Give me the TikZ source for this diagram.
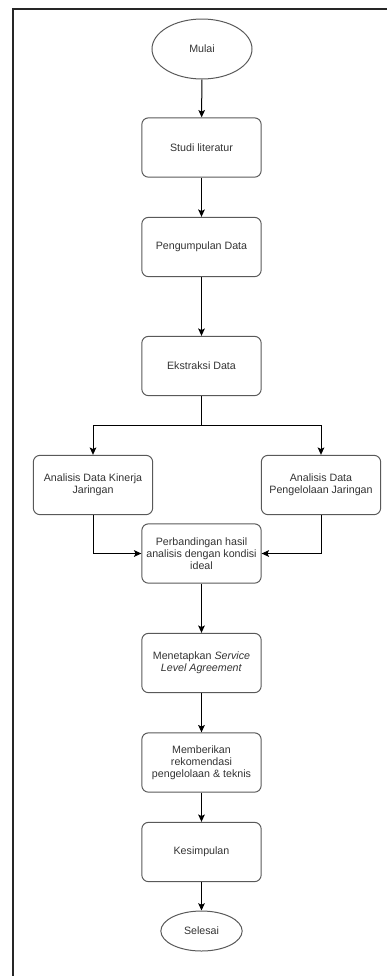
\documentclass[tikz,border=0pt]{standalone}
\usepackage{fontspec}
\setmainfont{Liberation Sans}
\usetikzlibrary{arrows.meta,shapes.geometric}

\begin{document}
\begin{tikzpicture}[
  x=0.75pt,y=-0.75pt,
  font=\fontsize{8}{9.2}\selectfont,
  box/.style={draw=black!65,line width=0.75pt,rounded corners=5pt,align=center,
    text=black!80,minimum width=89.5pt,minimum height=44.5pt,inner sep=1pt},
  term/.style={ellipse,draw=black!65,line width=0.75pt,text=black!80,inner sep=0pt},
  flow/.style={-{Stealth[length=5.5pt,width=5pt,inset=1.2pt]},line width=0.75pt},
  line/.style={line width=0.75pt}]
\path[use as bounding box] (0,0) rectangle (387,976);
\draw[line width=1.1pt,black!85] (387,9) -- (13,9) -- (13,976);
\node[term,minimum width=75pt,minimum height=45pt] (mulai) at (202,49) {Mulai};
\node[box] (studi) at (201.5,147.5) {Studi literatur};
\node[box] (kumpul) at (201.5,247) {Pengumpulan Data};
\node[box] (ekstrak) at (201.5,366) {Ekstraksi Data};
\coordinate (split) at (201.5,425);
\node[box] (kinerja) at (93,485) {Analisis Data Kinerja\\Jaringan};
\node[box] (kelola) at (321,485) {Analisis Data\\Pengelolaan Jaringan};
\node[box] (banding) at (201.5,553.5)
  {Perbandingan hasil\\analisis dengan kondisi\\ideal};
\node[box] (sla) at (201.5,663)
  {Menetapkan \textit{Service}\\\textit{Level Agreement}};
\node[box] (rekom) at (201.5,762.5)
  {Memberikan\\rekomendasi\\pengelolaan \& teknis};
\node[box] (simpul) at (201.5,852) {Kesimpulan};
\node[term,minimum width=61pt,minimum height=30pt] (selesai) at (201.5,931) {Selesai};
\draw[flow] (mulai) -- (studi);
\draw[flow] (studi) -- (kumpul);
\draw[flow] (kumpul) -- (ekstrak);
\draw[line] (ekstrak.south) -- (split);
\draw[flow] (split) -| (kinerja.north);
\draw[flow] (split) -| (kelola.north);
\draw[flow] (kinerja.south) |- (banding.west);
\draw[flow] (kelola.south) |- (banding.east);
\draw[flow] (banding) -- (sla);
\draw[flow] (sla) -- (rekom);
\draw[flow] (rekom) -- (simpul);
\draw[flow] (simpul) -- (selesai);
\end{tikzpicture}
\end{document}
